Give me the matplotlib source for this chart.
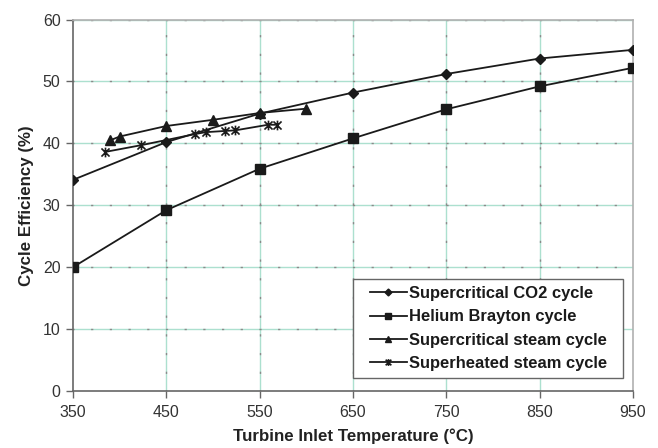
import matplotlib
matplotlib.use("Agg")
import matplotlib.pyplot as plt
from matplotlib.path import Path
from matplotlib.patches import Rectangle

plt.rcParams['font.family'] = ['Liberation Sans', 'DejaVu Sans']
plt.rcParams['lines.scale_dashes'] = False

# ---- data ----
co2_t = [350, 450, 550, 650, 750, 850, 950]
co2_eff = [34.1, 40.2, 44.8, 48.2, 51.2, 53.7, 55.1]

he_t = [350, 450, 550, 650, 750, 850, 950]
he_eff = [20.0, 29.2, 35.9, 40.8, 45.5, 49.2, 52.2]

scs_t = [390, 400, 450, 500, 550, 600]
scs_eff = [40.5, 41.1, 42.8, 43.8, 44.9, 45.6]

shs_t = [384, 423, 481, 492, 513, 524, 559, 569]
shs_eff = [38.6, 39.7, 41.5, 41.8, 42.0, 42.1, 43.0, 43.0]

labels = ["Supercritical CO2 cycle", "Helium Brayton cycle",
          "Supercritical steam cycle", "Superheated steam cycle"]

xticks = [350, 450, 550, 650, 750, 850, 950]
yticks = [0, 10, 20, 30, 40, 50, 60]

# ---- figure ----
W, H = 658, 448
fig = plt.figure(figsize=(W / 100, H / 100), dpi=100)
L, R, T, B = 73, 633, 19.5, 391
ax = fig.add_axes([L / W, 1 - B / H, (R - L) / W, (B - T) / H])
ax.set_xlim(350, 950)
ax.set_ylim(0, 60)

grid_green = '#ace0cf'
dash_gray = '#8a8a8a'
px = 0.72  # points per pixel
P = 18.7 * px  # dash period (pt)
dl = 1.6
for y in yticks[1:]:
    ax.axhline(y, color=grid_green, lw=1.0, zorder=0.5)
    ax.axhline(y, color=dash_gray, lw=1.0, zorder=0.6,
               linestyle=(dl / 2, (dl, P - dl)))
for x in xticks[1:-1]:
    ax.axvline(x, color=grid_green, lw=1.0, zorder=0.5)
    ax.axvline(x, color=dash_gray, lw=1.0, zorder=0.6,
               linestyle=(dl / 2, (dl, P - dl)))

# Excel-style star marker (x plus vertical bar)
star = Path([(-1, -1), (1, 1), (-1, 1), (1, -1), (0, -1.2), (0, 1.2)],
            [Path.MOVETO, Path.LINETO, Path.MOVETO, Path.LINETO, Path.MOVETO, Path.LINETO])

lc = '#1a1a1a'
h1, = ax.plot(co2_t, co2_eff, color=lc, lw=1.3, marker='D', ms=5, mfc=lc, mec=lc, zorder=3)
h2, = ax.plot(he_t, he_eff, color=lc, lw=1.3, marker='s', ms=7, mfc=lc, mec=lc, zorder=3)
h3, = ax.plot(scs_t, scs_eff, color=lc, lw=1.3, marker='^', ms=7, mfc=lc, mec=lc, zorder=3)
h4, = ax.plot(shs_t, shs_eff, color=lc, lw=1.3, marker=star, ms=7, mfc='none', mec=lc, mew=1.2, zorder=3)

ax.set_xticks(xticks)
ax.set_yticks(yticks)
ax.tick_params(axis='both', direction='out', length=5, width=1, color='#666666',
               labelsize=11.5, labelcolor='#333333')
ax.tick_params(axis='x', pad=5)
ax.tick_params(axis='y', pad=4)

for side in ['left', 'bottom']:
    ax.spines[side].set_color('#666666')
    ax.spines[side].set_linewidth(1.2)
for side in ['top', 'right']:
    ax.spines[side].set_color('#b0b0b0')
    ax.spines[side].set_linewidth(1.2)

ax.set_xlabel("Turbine Inlet Temperature (°C)", fontsize=12.2, fontweight='bold',
              color='#222222', labelpad=6.5)
ax.set_ylabel("Cycle Efficiency (%)", fontsize=12.2, fontweight='bold',
              color='#222222', labelpad=6)

# legend frame (drawn as a box) and legend entries
ax.add_patch(Rectangle((0.5, 0.035), 0.482, 0.2665, transform=ax.transAxes,
                       facecolor='white', edgecolor='#666666', lw=1.0, zorder=4))
leg = ax.legend([h1, h2, h3, h4], labels, loc='upper left',
                bbox_to_anchor=(0.530, 0.2826), borderaxespad=0, borderpad=0,
                frameon=False, prop={'weight': 'bold', 'size': 11.85},
                handlelength=2.25, handletextpad=0.12, labelspacing=0.51,
                markerscale=0.7)
leg.set_zorder(5)
for t in leg.get_texts():
    t.set_color('#1a1a1a')

fig.savefig("out.png", dpi=100)
